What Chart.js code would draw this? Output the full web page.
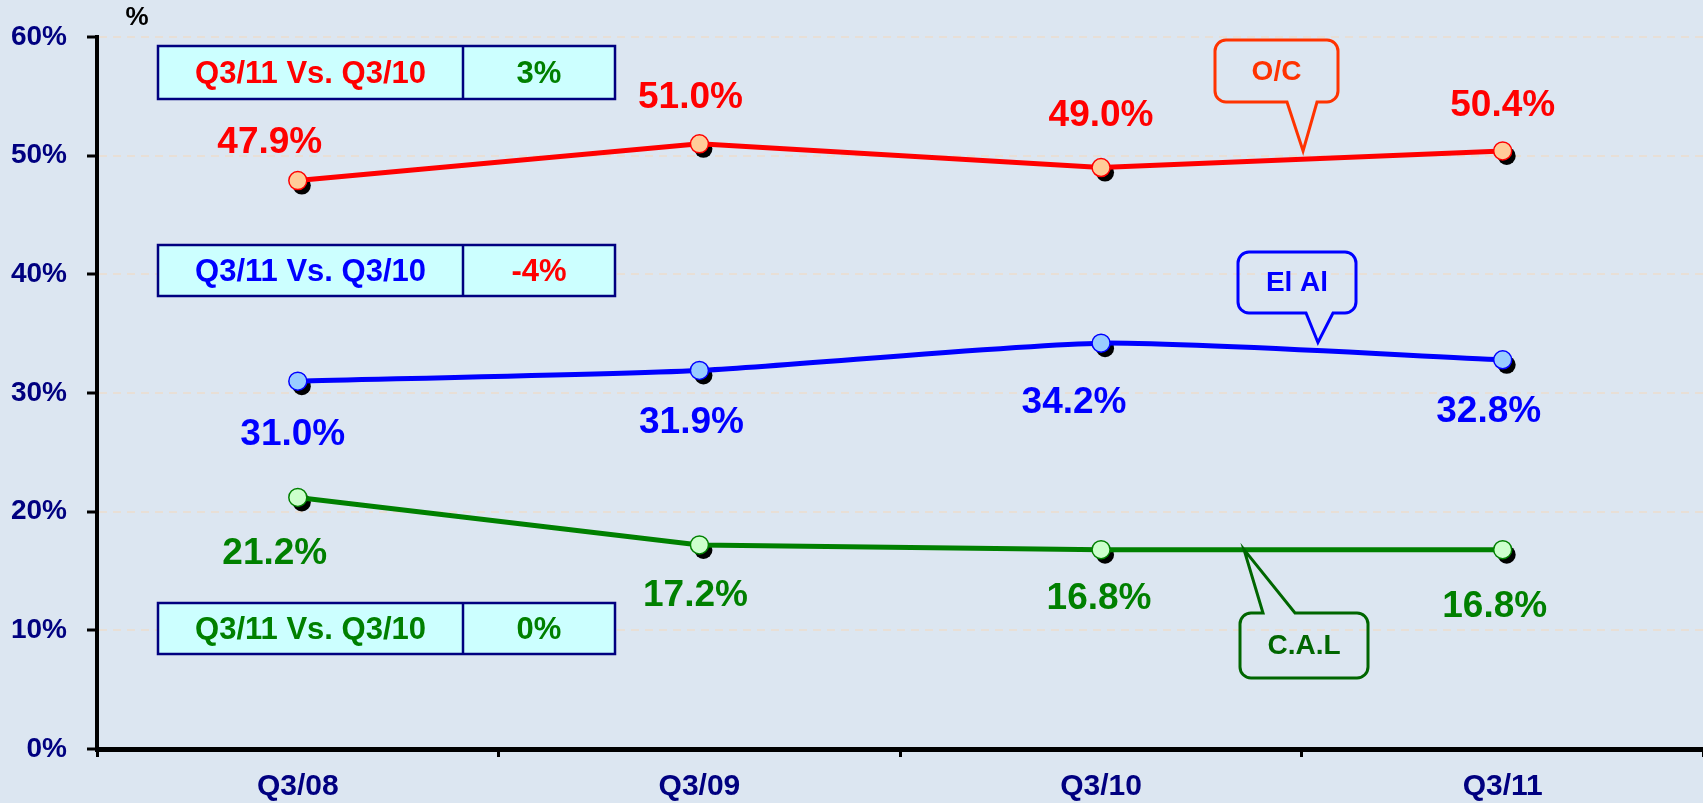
<!DOCTYPE html>
<html>
<head>
<meta charset="utf-8">
<script src="https://cdn.jsdelivr.net/npm/chart.js@4/dist/chart.umd.min.js"></script>
<style>
    html, body { margin: 0; padding: 0; background: #dce6f1; overflow: hidden; }
    #chart { display: block; }
</style>
</head>
<body>
<canvas id="chart" width="1714" height="803"></canvas>
<script>
// Chart data
const categories = ['Q3/08', 'Q3/09', 'Q3/10', 'Q3/11'];
const seriesNames = ['O/C', 'El Al', 'C.A.L'];
const ocValues = [47.9, 51.0, 49.0, 50.4];
const elAlValues = [31.0, 31.9, 34.2, 32.8];
const calValues = [21.2, 17.2, 16.8, 16.8];
const compareLabel = 'Q3/11 Vs. Q3/10';
const compareChanges = ['3%', '-4%', '0%'];

const FONT = '"Liberation Sans", Arial, sans-serif';
const NAVY = '#000080';

// Series styles
const lineColors = ['#ff0000', '#0000ff', '#008000'];
const pointFills = ['#ffcc99', '#99ccff', '#ccffcc'];

// Value label offsets from each point (px)
const labelOffsets = [
    [[-28, -42], [-9, -50], [0, -56], [0, -49]],
    [[-5, 50], [-8, 48], [-27, 56], [-14, 48]],
    [[-23, 52], [-4, 47], [-2, 45], [-8, 53]],
];

// Comparison boxes (left, top, divider, right, bottom), label colour, change colour
const compareBoxes = [
    { box: [158, 46, 463, 615, 99], color: '#ff0000', changeColor: '#008000' },
    { box: [158, 245, 463, 615, 296], color: '#0000ff', changeColor: '#ff0000' },
    { box: [158, 603, 463, 615, 654], color: '#008000', changeColor: '#008000' },
];

// Callouts: box rect, pointer side, base x range, tip in data coordinates
const callouts = [
    { rect: [1215, 40, 1338, 102], side: 'bottom', base: [1287, 1317], tip: [2.503, 50.4], color: '#ff3300' },
    { rect: [1238, 252, 1356, 313], side: 'bottom', base: [1306, 1333], tip: [2.54, 34.26], color: '#0000ff' },
    { rect: [1240, 613, 1368, 678], side: 'top', base: [1263, 1295], tip: [2.356, 16.8], color: '#006600' },
];

function drawCallout(ctx, c, tipX, tipY) {
    const [l, t, r, b] = c.rect;
    const rad = 11;
    ctx.beginPath();
    ctx.moveTo(l + rad, t);
    if (c.side === 'top') {
        ctx.lineTo(c.base[0], t);
        ctx.lineTo(tipX, tipY);
        ctx.lineTo(c.base[1], t);
    }
    ctx.lineTo(r - rad, t);
    ctx.arcTo(r, t, r, t + rad, rad);
    ctx.lineTo(r, b - rad);
    ctx.arcTo(r, b, r - rad, b, rad);
    if (c.side === 'bottom') {
        ctx.lineTo(c.base[1], b);
        ctx.lineTo(tipX, tipY);
        ctx.lineTo(c.base[0], b);
    }
    ctx.lineTo(l + rad, b);
    ctx.arcTo(l, b, l, b - rad, rad);
    ctx.lineTo(l, t + rad);
    ctx.arcTo(l, t, l + rad, t, rad);
    ctx.closePath();
    ctx.lineWidth = 3;
    ctx.strokeStyle = c.color;
    ctx.stroke();
}

// Black drop shadow under the point markers
const shadowPlugin = {
    id: 'pointShadow',
    beforeDatasetsDraw(chart) {
        const ctx = chart.ctx;
        ctx.save();
        ctx.fillStyle = '#000000';
        chart.data.datasets.forEach((ds, i) => {
            chart.getDatasetMeta(i).data.forEach(pt => {
                ctx.beginPath();
                ctx.arc(pt.x + 4, pt.y + 5, 9, 0, Math.PI * 2);
                ctx.fill();
            });
        });
        ctx.restore();
    }
};

// Value labels, comparison boxes, callouts and the % unit
const overlayPlugin = {
    id: 'overlay',
    afterDatasetsDraw(chart) {
        const ctx = chart.ctx;
        const xs = chart.scales.x;
        const ys = chart.scales.y;
        ctx.save();

        // value labels
        ctx.font = 'bold 37px ' + FONT;
        ctx.textAlign = 'center';
        ctx.textBaseline = 'middle';
        chart.data.datasets.forEach((ds, i) => {
            ctx.fillStyle = lineColors[i];
            chart.getDatasetMeta(i).data.forEach((pt, j) => {
                const off = labelOffsets[i][j];
                ctx.fillText(ds.data[j].toFixed(1) + '%', pt.x + off[0], pt.y + off[1] + 4);
            });
        });

        // comparison boxes
        compareBoxes.forEach((cb, i) => {
            const [l, t, d, r, b] = cb.box;
            ctx.fillStyle = '#ccffff';
            ctx.fillRect(l, t, r - l, b - t);
            ctx.lineWidth = 2.5;
            ctx.strokeStyle = NAVY;
            ctx.strokeRect(l, t, r - l, b - t);
            ctx.beginPath();
            ctx.moveTo(d, t);
            ctx.lineTo(d, b);
            ctx.stroke();
            ctx.font = 'bold 31px ' + FONT;
            ctx.fillStyle = cb.color;
            ctx.fillText(compareLabel, (l + d) / 2, (t + b) / 2 + 2);
            ctx.fillStyle = cb.changeColor;
            ctx.fillText(compareChanges[i], (d + r) / 2, (t + b) / 2 + 2);
        });

        // callouts
        callouts.forEach((c, i) => {
            const tipX = xs.getPixelForValue(c.tip[0]);
            const tipY = ys.getPixelForValue(c.tip[1]);
            drawCallout(ctx, c, tipX, tipY);
            ctx.font = 'bold 28px ' + FONT;
            ctx.fillStyle = c.color;
            const [l, t, r, b] = c.rect;
            ctx.fillText(seriesNames[i], (l + r) / 2, (t + b) / 2 + 1);
        });

        // unit label
        ctx.font = 'bold 26px ' + FONT;
        ctx.fillStyle = '#000000';
        ctx.fillText('%', 137, 18);

        ctx.restore();
    }
};

const datasets = [ocValues, elAlValues, calValues].map((values, i) => ({
    label: seriesNames[i],
    data: values,
    borderColor: lineColors[i],
    borderWidth: 5,
    tension: i === 1 ? 0.2 : 0,
    pointRadius: 9,
    pointBackgroundColor: pointFills[i],
    pointBorderColor: lineColors[i],
    pointBorderWidth: 1.5,
    fill: false,
}));

new Chart(document.getElementById('chart'), {
    type: 'line',
    data: { labels: categories, datasets: datasets },
    options: {
        responsive: false,
        animation: false,
        devicePixelRatio: 1,
        layout: { padding: { top: 37, left: 0, right: 0, bottom: 0 } },
        plugins: {
            legend: { display: false },
            tooltip: { enabled: false },
        },
        scales: {
            x: {
                offset: true,
                afterFit: (scale) => { scale.height = 54; },
                grid: {
                    drawOnChartArea: false,
                    drawTicks: true,
                    tickLength: 8,
                    tickColor: '#000000',
                    tickWidth: 3,
                    offset: true,
                },
                border: { color: '#000000', width: 5 },
                ticks: {
                    color: NAVY,
                    font: { family: FONT, size: 30, weight: 'bold' },
                    padding: 12,
                    maxRotation: 0,
                },
            },
            y: {
                min: 0,
                max: 60,
                afterFit: (scale) => { scale.width = 97; },
                grid: {
                    color: (ctx) => ctx.tick && ctx.tick.value === 0 ? 'rgba(0,0,0,0)' : '#e8dfd6',
                    lineWidth: 2,
                    drawTicks: true,
                    tickLength: 10,
                    tickColor: '#000000',
                    tickWidth: 3,
                },
                border: { color: '#000000', width: 4, dash: [8, 6] },
                ticks: {
                    stepSize: 10,
                    color: NAVY,
                    padding: 20,
                    font: { family: FONT, size: 28, weight: 'bold' },
                    callback: (v) => v + '%',
                },
            },
        },
    },
    plugins: [shadowPlugin, overlayPlugin],
});
</script>
</body>
</html>
